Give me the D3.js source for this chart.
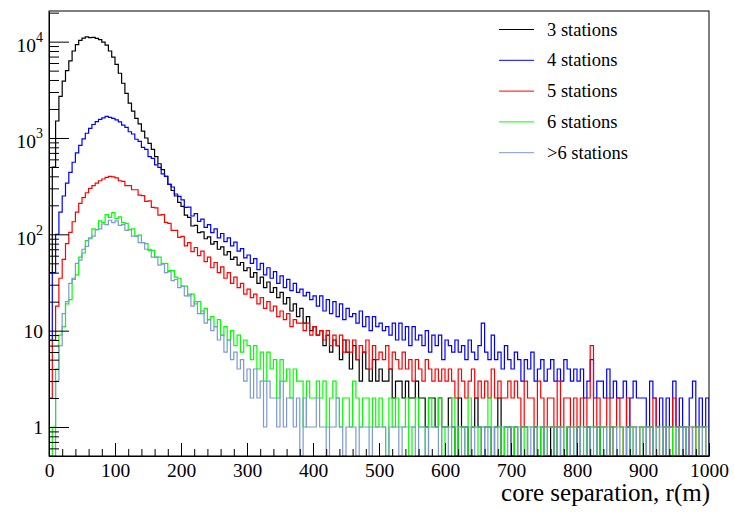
<!DOCTYPE html>
<html lang="en">

<head>
  <meta charset="utf-8">
  <title>core separation</title>
  <script src="https://d3js.org/d3.v7.min.js"></script>
  <style>
    body {
      margin: 0;
      background: white;
    }
    svg text {
      font-family: "Liberation Serif", "DejaVu Serif", serif;
      fill: black;
    }
    .tick-label {
      font-size: 19.5px;
    }
    .legend-text {
      font-size: 18.5px;
    }
  </style>
</head>

<body>
  <div id="chart"></div>
  <script>
    var w = 735; //width
    var h = 519; //height
    var binWidth = 5; // metres per bin, values are counts per 1 m
    var xTicks = [0, 100, 200, 300, 400, 500, 600, 700, 800, 900, 1000];
    var yTicks = [1, 10, 100, 1000, 10000];
    var seriesNames = ['3 stations', '4 stations', '5 stations', '6 stations', '>6 stations'];
    var seriesColors = ['#000000', '#0000ff', '#ff0000', '#00ff00', '#7d99d1'];

    // one row = 100 m
    var stations3 = [
      40, 500, 1500, 2700, 3900, 5000, 6300, 8000, 9300, 10300, 10900, 11200, 11000, 11100, 10800, 10500, 9900, 9200, 8000, 6900,
      5800, 4700, 3700, 2900, 2300, 1900, 1600, 1400, 1180, 1000, 880, 760, 640, 540, 470, 400, 330, 285, 250, 215,
      195, 158, 150, 122, 124, 104, 106, 90, 94, 79, 84, 70, 74, 61, 66, 55, 58, 48, 51, 42,
      45, 36, 40, 31, 36, 28, 32, 25, 28, 22, 25, 19, 22, 16, 19, 14, 17, 12, 14, 10,
      11, 9, 10, 7, 9, 6, 8, 7, 5, 8, 6, 4, 7, 5, 3, 6, 4, 3, 5, 3,
      4, 3, 3, 4, 2, 3, 3, 2, 3, 2, 2, 3, 2, 2, 1, 2, 2, 1, 2, 1,
      1, 2, 1, 0, 2, 1, 1, 0, 1, 2, 1, 0, 1, 1, 0, 1, 2, 0, 1, 1,
      0, 1, 0, 1, 1, 0, 0, 1, 0, 1, 0, 0, 1, 0, 1, 0, 0, 1, 0, 0,
      1, 0, 0, 1, 0, 0, 1, 0, 0, 0, 1, 0, 0, 0, 0, 1, 0, 0, 0, 0,
      0, 0, 1, 0, 0, 0, 0, 0, 0, 0, 0, 1, 0, 0, 0, 0, 0, 0, 0, 0
    ];
    var stations4 = [
      8, 40, 100, 170, 250, 340, 440, 560, 700, 840, 980, 1120, 1260, 1380, 1480, 1560, 1620, 1680, 1640, 1600,
      1540, 1470, 1360, 1290, 1160, 1100, 970, 920, 800, 760, 640, 615, 525, 495, 425, 400, 330, 310, 262, 248,
      228, 190, 192, 155, 164, 136, 144, 118, 126, 104, 114, 92, 102, 84, 92, 76, 83, 67, 71, 57,
      61, 50, 56, 43, 50, 38, 45, 35, 41, 31, 37, 28, 34, 26, 31, 25, 27, 23, 25, 21,
      23, 18, 23, 16, 21, 15, 20, 14, 19, 13, 17, 14, 15, 12, 16, 11, 14, 10, 14, 11,
      12, 10, 11, 9, 12, 8, 12, 8, 11, 7, 11, 8, 9, 7, 10, 6, 9, 7, 9, 5,
      8, 7, 6, 8, 6, 7, 5, 8, 6, 5, 7, 12, 6, 5, 9, 5, 6, 4, 7, 5,
      4, 6, 5, 3, 5, 4, 6, 3, 4, 5, 3, 4, 5, 3, 4, 3, 5, 4, 3, 4,
      3, 4, 2, 3, 5, 2, 3, 3, 2, 4, 2, 3, 2, 2, 3, 1, 2, 3, 2, 2,
      2, 1, 3, 2, 1, 2, 0, 2, 1, 3, 1, 2, 1, 0, 2, 3, 1, 2, 1, 2
    ];
    var stations5 = [
      2, 8, 18, 35, 55, 80, 105, 135, 170, 210, 240, 270, 300, 320, 340, 360, 375, 390, 400, 395,
      385, 360, 355, 320, 320, 290, 290, 255, 252, 220, 222, 190, 188, 158, 160, 133, 130, 110, 110, 93,
      95, 76, 82, 66, 73, 60, 67, 52, 58, 45, 51, 40, 46, 35, 40, 31, 36, 28, 31, 24,
      27, 22, 24, 19, 22, 17, 20, 16, 18, 14, 16, 13, 15, 11, 13, 12, 12, 10, 12, 9,
      11, 9, 10, 8, 10, 7, 9, 7, 9, 6, 8, 6, 8, 5, 7, 6, 8, 4, 7, 5,
      6, 5, 7, 4, 6, 5, 4, 6, 4, 5, 3, 5, 4, 3, 5, 4, 3, 4, 3, 4,
      3, 4, 3, 2, 4, 3, 2, 3, 4, 2, 3, 2, 3, 2, 4, 2, 3, 2, 2, 3,
      2, 3, 2, 1, 3, 2, 2, 1, 3, 2, 1, 2, 2, 1, 3, 1, 2, 2, 1, 2,
      1, 2, 1, 2, 7, 1, 2, 1, 1, 2, 0, 1, 2, 1, 0, 2, 1, 1, 0, 1,
      1, 0, 1, 2, 1, 0, 1, 1, 0, 2, 1, 0, 1, 1, 0, 1, 0, 1, 1, 0
    ];
    var stations6 = [
      0, 1, 4, 9, 11, 19, 21, 34, 38, 58, 64, 86, 90, 114, 112, 138, 132, 160, 150, 168,
      146, 152, 132, 130, 112, 114, 96, 98, 82, 80, 68, 68, 58, 58, 50, 50, 42, 42, 36, 35,
      29, 29, 23, 24, 19, 20, 15, 17, 13, 14, 11, 13, 9, 11, 8, 10, 7, 9, 6, 8,
      7, 5, 7, 4, 6, 3, 6, 4, 5, 2, 5, 3, 4, 2, 4, 3, 3, 1, 3, 2,
      2, 3, 2, 3, 1, 2, 3, 2, 1, 2, 2, 1, 3, 2, 1, 2, 2, 1, 2, 1,
      2, 1, 0, 2, 1, 2, 1, 1, 2, 0, 1, 2, 1, 1, 0, 2, 1, 1, 2, 0,
      1, 1, 2, 0, 1, 1, 0, 2, 1, 1, 0, 1, 1, 2, 0, 1, 1, 0, 1, 1,
      1, 0, 1, 1, 0, 1, 1, 1, 0, 1, 0, 1, 1, 0, 1, 1, 0, 1, 0, 1,
      1, 0, 1, 0, 1, 1, 0, 1, 1, 0, 1, 0, 1, 1, 0, 1, 0, 1, 0, 1,
      0, 1, 1, 0, 1, 0, 1, 1, 0, 1, 0, 1, 0, 1, 1, 0, 1, 0, 1, 0
    ];
    var stationsMore = [
      0, 0, 3, 7, 15, 20, 31, 35, 50, 54, 70, 75, 92, 96, 112, 114, 128, 126, 140, 132,
      138, 124, 126, 110, 112, 96, 96, 82, 82, 70, 70, 58, 58, 48, 49, 40, 41, 33, 34, 28,
      29, 23, 24, 18, 20, 15, 16, 12, 13, 10, 11, 8, 9, 6, 8, 5, 6, 4, 5, 3,
      4, 2, 4, 2, 3, 1, 3, 2, 2, 1, 3, 1, 2, 2, 1, 2, 0, 2, 1, 1,
      1, 2, 1, 1, 0, 1, 1, 2, 1, 0, 1, 1, 1, 0, 1, 1, 1, 0, 1, 1,
      1, 1, 0, 1, 1, 1, 0, 1, 1, 1, 1, 0, 1, 1, 0, 1, 1, 1, 0, 1,
      1, 0, 1, 1, 1, 0, 1, 1, 0, 1, 1, 1, 0, 1, 1, 0, 1, 1, 1, 0,
      1, 1, 0, 1, 1, 0, 1, 0, 1, 1, 0, 1, 1, 0, 1, 0, 1, 1, 0, 1,
      0, 1, 1, 0, 1, 0, 1, 1, 0, 1, 0, 1, 0, 1, 1, 0, 1, 0, 1, 0,
      1, 0, 1, 0, 1, 1, 0, 1, 0, 0, 1, 0, 1, 0, 1, 0, 0, 1, 0, 1
    ];
    var seriesValues = [stations3, stations4, stations5, stations6, stationsMore];

    var plotLeft = 49, plotRight = 709, plotTop = 11, plotBottom = 456;
    var yMin = 0.5, yMax = 20800;

    var svg = d3.select('#chart').append('svg')
      .attr('width', w)
      .attr('height', h)
      .style('font-family', '"Liberation Serif", "DejaVu Serif", serif');

    var x = d3.scaleLinear().domain([0, 1000]).range([plotLeft, plotRight]);
    var y = d3.scaleLog().domain([yMin, yMax]).range([plotBottom, plotTop]);

    svg.append('clipPath').attr('id', 'plot')
      .append('rect')
      .attr('x', plotLeft).attr('y', plotTop)
      .attr('width', plotRight - plotLeft).attr('height', plotBottom - plotTop);

    // step line like a ROOT histogram, empty bins drop to the frame bottom
    var line = d3.line()
      .x(function (d) { return x(d[0]); })
      .y(function (d) { return y(Math.max(d[1], yMin)); });

    function steps(values) {
      var pts = [[0, 0]];
      values.forEach(function (v, i) {
        pts.push([i * binWidth, v]);
        pts.push([(i + 1) * binWidth, v]);
      });
      pts.push([values.length * binWidth, 0]);
      return pts;
    }

    svg.append('g').attr('clip-path', 'url(#plot)')
      .selectAll('path.hist')
      .data(seriesValues)
      .enter().append('path')
      .attr('class', 'hist')
      .attr('d', function (d) { return line(steps(d)); })
      .attr('fill', 'none')
      .attr('stroke', function (d, i) { return seriesColors[i]; })
      .attr('stroke-width', 1.2);

    // frame
    svg.append('rect')
      .attr('x', plotLeft).attr('y', plotTop)
      .attr('width', plotRight - plotLeft).attr('height', plotBottom - plotTop)
      .attr('fill', 'none')
      .attr('stroke', 'black')
      .attr('stroke-width', 1);

    // x axis
    var xMinor = d3.range(0, 1001, 20).filter(function (d) { return d % 100 !== 0; });
    var xAxis = svg.append('g')
      .attr('transform', 'translate(0,' + plotBottom + ')')
      .call(d3.axisBottom(x).tickValues(xTicks).tickFormat(d3.format('d'))
        .tickSizeInner(-13).tickSizeOuter(0).tickPadding(7));
    xAxis.attr('font-family', null).attr('font-size', null);
    xAxis.selectAll('text').attr('class', 'tick-label');
    svg.append('g')
      .attr('transform', 'translate(0,' + plotBottom + ')')
      .call(d3.axisBottom(x).tickValues(xMinor).tickSizeInner(-7).tickSizeOuter(0).tickFormat(''))
      .select('.domain').remove();

    // y axis
    var yMinor = [];
    [0.1, 1, 10, 100, 1000, 10000].forEach(function (dec) {
      for (var k = 2; k <= 9; k++) {
        var v = k * dec;
        if (v >= yMin && v <= yMax) yMinor.push(v);
      }
    });
    svg.append('g')
      .attr('transform', 'translate(' + plotLeft + ',0)')
      .call(d3.axisLeft(y).tickValues(yTicks).tickSizeInner(-20).tickSizeOuter(0).tickFormat(''));
    svg.append('g')
      .attr('transform', 'translate(' + plotLeft + ',0)')
      .call(d3.axisLeft(y).tickValues(yMinor).tickSizeInner(-10).tickSizeOuter(0).tickFormat(''))
      .select('.domain').remove();
    svg.selectAll('.tick line').attr('stroke', 'black');
    svg.selectAll('.domain').attr('stroke', 'black');

    var yLabels = svg.selectAll('text.ylab')
      .data(yTicks)
      .enter().append('text')
      .attr('class', 'ylab tick-label')
      .attr('text-anchor', 'end')
      .attr('x', 43)
      .attr('y', function (d) { return y(d) + (d >= 100 ? 10.5 : 7); });
    yLabels.each(function (d) {
      var t = d3.select(this);
      var p = Math.round(Math.log10(d));
      if (p < 2) {
        t.text(d);
      } else {
        t.append('tspan').text('10');
        t.append('tspan').attr('dy', -10).style('font-size', '14px').text(p);
      }
    });

    // x title
    svg.append('text')
      .attr('x', 710)
      .attr('y', 501)
      .attr('text-anchor', 'end')
      .style('font-size', '25px')
      .text('core separation, r(m)');

    // legend
    var legend = svg.selectAll('g.legend')
      .data(seriesNames)
      .enter().append('g')
      .attr('class', 'legend')
      .attr('transform', function (d, i) { return 'translate(0,' + (29.5 + i * 30.8) + ')'; });
    legend.append('line')
      .attr('x1', 499).attr('x2', 534)
      .attr('stroke', function (d, i) { return seriesColors[i]; })
      .attr('stroke-width', 1);
    legend.append('text')
      .attr('class', 'legend-text')
      .attr('x', 547)
      .attr('dy', '0.33em')
      .text(function (d) { return d; });
  </script>
</body>

</html>
